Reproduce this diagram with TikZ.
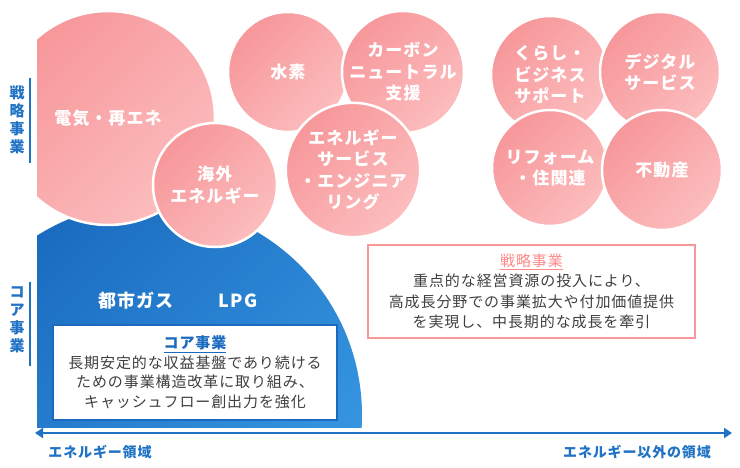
\documentclass[tikz,border=0pt]{standalone}
\usepackage{fontspec}
\setmainfont{Noto Sans CJK JP}[LetterSpace=6]
\usetikzlibrary{arrows.meta,positioning}
\definecolor{pinkD}{HTML}{F7979A}
\definecolor{pinkL}{HTML}{FCBDBE}
\definecolor{blueD}{HTML}{1A6BBF}
\definecolor{blueL}{HTML}{3A9BE5}
\definecolor{axisblue}{HTML}{1F72C4}
\definecolor{txtgray}{HTML}{404040}
\definecolor{titlepink}{HTML}{FF8A8A}

\begin{document}
\begin{tikzpicture}[x=1pt, y=-1pt,
      bub/.style={circle, draw=white, line width=2.5pt, top color=pinkD, bottom color=pinkL,
                  shading angle=45, text=white, align=center, inner sep=0pt,
                  font=\fontsize{17}{21.5}\selectfont\bfseries},
      core/.style={text=white, font=\fontsize{18}{22}\selectfont\bfseries},
      boxB/.style={draw=blueD, line width=2.5pt, fill=white, minimum width=284pt,
                   minimum height=95pt, align=center, text=txtgray,
                   font=\fontsize{15}{19.5}\selectfont},
      boxP/.style={draw=pinkD, line width=2pt, fill=white, minimum width=327pt,
                   minimum height=93pt, align=center, text=txtgray,
                   font=\fontsize{15}{20.5}\selectfont},
      side/.style={text=axisblue, align=center, font=\fontsize{15}{18}\selectfont\bfseries},
      bar/.style={axisblue, line width=2pt},
      axis/.style={{Triangle[length=8pt,width=10pt]}-{Triangle[length=8pt,width=10pt]}, axisblue, line width=2pt},
      axlab/.style={text=axisblue, font=\fontsize{14}{16}\selectfont\bfseries},
    ]
    \useasboundingbox (0,0) rectangle (740,468);

    \begin{scope}
      \clip (37,0) rectangle (740,427);
      \shade[top color=blueD, bottom color=blueL, shading angle=45]
        (150,415) circle [radius=212pt];
    \end{scope}

    \begin{scope}
      \clip (37,0) rectangle (740,468);
      \node[bub, minimum size=214pt] (denki) at (108,118) {電気・再エネ};
    \end{scope}
    \node[bub, minimum size=124pt] (kaigai)  at (215,185) {海外\\エネルギー};

    \node[bub, minimum size=120pt] (suiso)   at (288,72)  {水素};
    \node[bub, minimum size=122pt] (carbon)  at (403,72)  {カーボン\\ニュートラル\\支援};
    \node[bub, minimum size=122pt] (enesvc)  at (353,170) {エネルギー\\サービス\\・エンジニア\\リング};

    \node[bub, minimum size=118pt] (kurashi) at (550,75)  {くらし・\\ビジネス\\サポート};
    \node[bub, minimum size=120pt] (digital) at (660,72)  {デジタル\\サービス};
    \node[bub, minimum size=116pt] (reform)  at (550,168) {リフォーム\\・住関連};
    \node[bub, minimum size=120pt] (fudosan) at (662,170) {不動産};

    \node[core] (gas) at (136,301) {都市ガス};
    \node[core] (lpg) at (238,301) {LPG};

    \node[boxB] (coreBox) at (195,372.5) {{\color{blueD}\bfseries\underline{コア事業}}\\
      長期安定的な収益基盤であり続ける\\ための事業構造改革に取り組み、\\キャッシュフロー創出力を強化};
    \node[boxP] (stratBox) at (531.5,291.5) {{\color{titlepink}\underline{戦略事業}}\\
      重点的な経営資源の投入により、\\高成長分野での事業拡大や付加価値提供\\を実現し、中長期的な成長を牽引};

    \node[side] (sideS) at (17,120) {戦\\略\\事\\業};
    \node[side] (sideC) at (17,320) {コ\\ア\\事\\業};
    \coordinate (barS1) at (30,78);
    \coordinate (barS2) at (30,163);
    \coordinate (barC1) at (30,282);
    \coordinate (barC2) at (30,366);
    \draw[bar] (barS1) -- (barS2);
    \draw[bar] (barC1) -- (barC2);

    \coordinate (axL) at (35,433);
    \coordinate (axR) at (732,433);
    \draw[axis] (axL) -- (axR);
    \node[axlab] (labE)  at (100,452) {エネルギー領域};
    \node[axlab] (labNE) at (637,452) {エネルギー以外の領域};
  \end{tikzpicture}
\end{document}
